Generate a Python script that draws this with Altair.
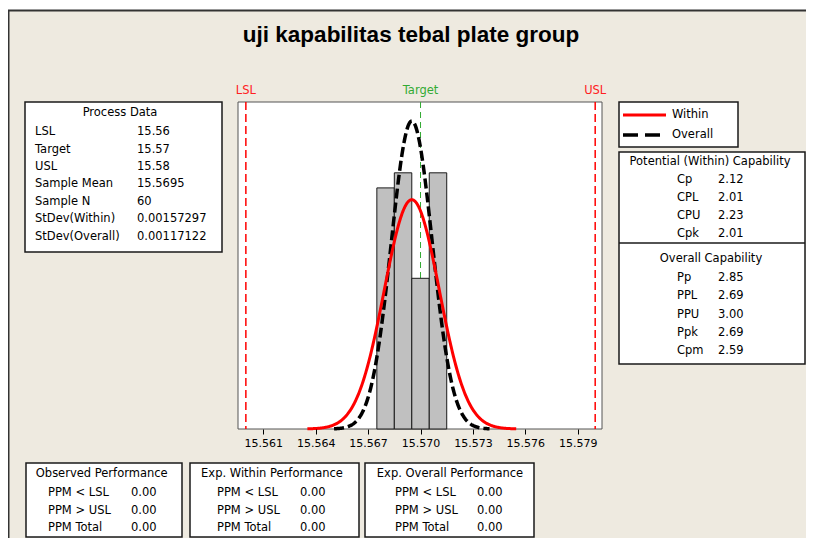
import altair as alt
import pandas as pd

# ---------------- data ----------------
chart_title = "uji kapabilitas tebal plate group"

lsl, target, usl = 15.56, 15.57, 15.58
sample_mean = 15.5695
sample_n = 60
stdev_within = 0.00157297
stdev_overall = 0.00117122

process_title = "Process Data"
process_labels = ["LSL", "Target", "USL", "Sample Mean", "Sample N", "StDev(Within)", "StDev(Overall)"]
process_values = ["15.56", "15.57", "15.58", "15.5695", "60", "0.00157297", "0.00117122"]

bin_lo = [15.5675, 15.5685, 15.5695, 15.5705]
bin_hi = [15.5685, 15.5695, 15.5705, 15.5715]
bin_count = [16, 17, 10, 17]

x_tick_values = [15.561, 15.5625, 15.564, 15.5655, 15.567, 15.5685, 15.570,
                 15.5715, 15.573, 15.5745, 15.576, 15.5775, 15.579]
x_domain = [15.55955, 15.58039]
y_domain = [0, 21.7]

spec_names = ["LSL", "Target", "USL"]
spec_values = [lsl, target, usl]

legend_labels = ["Within", "Overall"]

potential_title = "Potential (Within) Capability"
potential_labels = ["Cp", "CPL", "CPU", "Cpk"]
potential_values = ["2.12", "2.01", "2.23", "2.01"]

overall_title = "Overall Capability"
overall_labels = ["Pp", "PPL", "PPU", "Ppk", "Cpm"]
overall_values = ["2.85", "2.69", "3.00", "2.69", "2.59"]

perf_titles = ["Observed Performance", "Exp. Within Performance", "Exp. Overall Performance"]
perf_labels = ["PPM < LSL", "PPM > USL", "PPM Total"]
observed_values = ["0.00", "0.00", "0.00"]
exp_within_values = ["0.00", "0.00", "0.00"]
exp_overall_values = ["0.00", "0.00", "0.00"]

# ---------------- layout ----------------
PX0, PY0, PW, PH = 238, 102, 364, 327
PAGE_W, PAGE_H = 798, 530


def X(p):
    return p - PX0


def Y(p):
    return p - PY0


FONT = "DejaVu Sans"
FS = 11.5
BEIGE = "#EEEAE0"
BORDER = "#1a1a1a"
one = pd.DataFrame({"k": [0]})


def box(x0, y0, x1, y1, fill="white", stroke=BORDER, sw=1.5):
    return alt.Chart(one).mark_rect(fill=fill, stroke=stroke, strokeWidth=sw).encode(
        x=alt.value(X(x0)), x2=alt.value(X(x1)), y=alt.value(Y(y0)), y2=alt.value(Y(y1))
    )


def hline(x0, x1, y, color=BORDER, sw=1.5, dash=None):
    kw = dict(color=color, strokeWidth=sw)
    if dash:
        kw["strokeDash"] = dash
    return alt.Chart(one).mark_rule(**kw).encode(
        x=alt.value(X(x0)), x2=alt.value(X(x1)), y=alt.value(Y(y))
    )


def txt(lines, x, y, align="left", size=FS, lh=17.5, font=FONT, **kw):
    # y is the centre of the first line
    return alt.Chart(one).mark_text(
        align=align, baseline="middle", font=font, fontSize=size, lineHeight=lh,
        color="black", **kw
    ).encode(x=alt.value(X(x)), y=alt.value(Y(y)), text=alt.value(lines))


layers = []
# window background
layers.append(box(8.5, 10.5, 900, 700, fill=BEIGE, stroke="#333333", sw=2))
# title
layers.append(txt(chart_title, 411, 35, align="center", size=22.5, font="Liberation Sans",
                  fontWeight="bold"))
# plot frame
layers.append(box(PX0, PY0, PX0 + PW, PY0 + PH, fill="white", stroke="#555555", sw=1))

# target line (behind bars)
spec_df = pd.DataFrame({"name": spec_names, "value": spec_values})
layers.append(
    alt.Chart(spec_df).transform_filter("datum.name == 'Target'")
    .mark_rule(color="#33AA33", strokeDash=[6, 4], strokeWidth=1)
    .encode(x=alt.X("value:Q", title=None), y=alt.value(0), y2=alt.value(PH))
)

# histogram
hist_df = pd.DataFrame({"lo": bin_lo, "hi": bin_hi, "count": bin_count})
layers.append(
    alt.Chart(hist_df).mark_rect(fill="#C0C0C0", stroke=BORDER, strokeWidth=1).encode(
        x=alt.X(
            "lo:Q",
            title=None,
            scale=alt.Scale(domain=x_domain, nice=False, zero=False),
            axis=alt.Axis(
                values=x_tick_values,
                labelExpr="round(datum.value*10000) % 30 == 0 ? format(datum.value, '.3f') : ''",
                title=None, domain=False, grid=False, ticks=True, tickSize=5,
                tickColor="black", tickWidth=1, labelColor="black", labelFont=FONT,
                labelFontSize=11, labelPadding=3, zindex=1, labelOverlap=False,
                labelFlush=False,
            ),
        ),
        x2="hi:Q",
        y=alt.Y("count:Q", title=None, axis=None,
                scale=alt.Scale(domain=y_domain, nice=False, zero=True)),
        y2=alt.datum(0),
    )
)

bin_width = bin_hi[0] - bin_lo[0]


def normal_curve(sd, **mark_kw):
    return (
        alt.Chart(alt.sequence(-3.8, 3.8001, 0.02, as_="z"))
        .transform_calculate(
            x=f"{sample_mean} + datum.z * {sd}",
            dens=f"{sample_n * bin_width} * densityNormal(datum.x, {sample_mean}, {sd})",
        )
        .mark_line(**mark_kw)
        .encode(x=alt.X("x:Q", title=None), y=alt.Y("dens:Q", title=None, axis=None))
    )


layers.append(normal_curve(stdev_overall, color="black", strokeWidth=3.5, strokeDash=[10, 4]))
layers.append(normal_curve(stdev_within, color="#FF0000", strokeWidth=3))

# spec limits
layers.append(
    alt.Chart(spec_df).transform_filter("datum.name != 'Target'")
    .mark_rule(color="#FF0000", strokeDash=[8, 4], strokeWidth=1.5)
    .encode(x=alt.X("value:Q", title=None), y=alt.value(0), y2=alt.value(PH))
)
layers.append(
    alt.Chart(spec_df).transform_filter("datum.name != 'Target'")
    .mark_text(color="#FF2020", font=FONT, fontSize=11.5, baseline="middle", align="center")
    .encode(x=alt.X("value:Q", title=None), y=alt.value(Y(91)), text="name:N")
)
layers.append(
    alt.Chart(spec_df).transform_filter("datum.name == 'Target'")
    .mark_text(color="#33AA33", font=FONT, fontSize=11.5, baseline="middle", align="center")
    .encode(x=alt.X("value:Q", title=None), y=alt.value(Y(91)), text="name:N")
)

# process data box
layers.append(box(25, 102, 222, 252))
layers.append(txt(process_title, 120, 113, align="center"))
layers.append(txt(process_labels, 35, 132.3, lh=17.4))
layers.append(txt(process_values, 137, 132.3, lh=17.4))

# legend box
layers.append(box(619, 102, 738, 147))
layers.append(hline(623, 666, 115, color="#FF0000", sw=3))
layers.append(hline(623, 667, 135, color="black", sw=3.5, dash=[15, 7]))
layers.append(txt(legend_labels[0], 672, 115))
layers.append(txt(legend_labels[1], 672, 135))

# capability box
layers.append(box(619, 152, 805, 364))
layers.append(hline(619, 805, 243, sw=1.5))
layers.append(txt(potential_title, 710, 162, align="center"))
layers.append(txt(potential_labels, 677, 180, lh=18.1))
layers.append(txt(potential_values, 718, 180, lh=18.1))
layers.append(txt(overall_title, 711, 258.5, align="center"))
layers.append(txt(overall_labels, 677, 278.3, lh=18.2))
layers.append(txt(overall_values, 718, 278.3, lh=18.2))

# performance boxes
perf_boxes = [(26, 182, 101.7, 48, 131, observed_values),
              (190, 359, 272, 217, 300, exp_within_values),
              (365, 534, 450, 395, 477, exp_overall_values)]
for i, (bx0, bx1, tcx, lx, vx, vals) in enumerate(perf_boxes):
    layers.append(box(bx0, 463, bx1, 537))
    layers.append(txt(perf_titles[i], tcx, 474, align="center"))
    layers.append(txt(perf_labels, lx, 493, lh=17.5))
    layers.append(txt(vals, vx, 493, lh=17.5))

chart = (
    alt.layer(*layers)
    .properties(
        width=PW,
        height=PH,
        autosize=alt.AutoSizeParams(type="none"),
        padding={"left": PX0 - 8, "top": PY0 - 8,
                 "right": PAGE_W - (PX0 - 8) - PW, "bottom": PAGE_H - (PY0 - 8) - PH},
        background="white",
    )
    .configure_view(strokeWidth=0)
)

chart.save("out.html", embed_options={"renderer": "svg", "actions": False})
